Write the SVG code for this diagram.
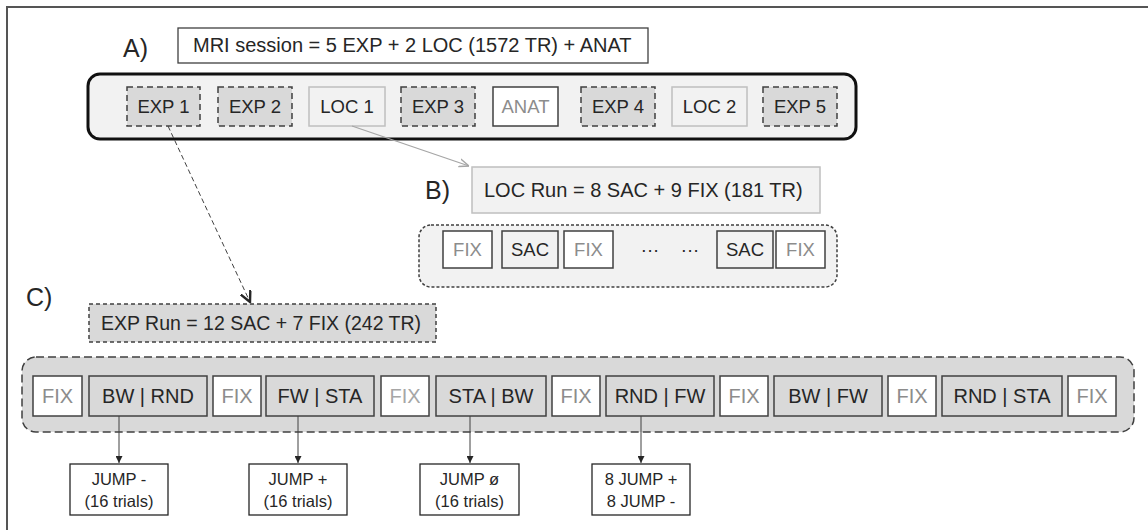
<svg xmlns="http://www.w3.org/2000/svg" width="1148" height="530" viewBox="0 0 1148 530">
<defs>
<style>
text{font-family:"Liberation Sans",Arial,sans-serif;fill:#262626;text-anchor:middle}
.lbl{font-size:25px;text-anchor:start}
.hd{font-size:20px;text-anchor:start}
.a{font-size:18.5px}
.c{font-size:20px}
.j{font-size:16.5px}
.g{fill:#8c8c8c}
.gl{fill:#a6a6a6}
.exp{fill:#d9d9d9;stroke:#404040;stroke-width:1.5;stroke-dasharray:6 4}
.loc{fill:#f2f2f2;stroke:#bfbfbf;stroke-width:1.5}
.wht{fill:#fff;stroke:#404040;stroke-width:1.5}
.sac{fill:#f2f2f2;stroke:#404040;stroke-width:1.5}
.cit{fill:#d9d9d9;stroke:#404040;stroke-width:1.5}
.jb{fill:#fff;stroke:#262626;stroke-width:1.3}
</style>
<marker id="ah" viewBox="0 0 10 10" refX="10" refY="5" markerWidth="7" markerHeight="7" orient="auto" markerUnits="userSpaceOnUse">
<path d="M0,0 L10,5 L0,10 z" fill="#262626"/>
</marker>
<marker id="ag" viewBox="0 0 10 10" refX="10" refY="5" markerWidth="10" markerHeight="10" orient="auto" markerUnits="userSpaceOnUse">
<path d="M0,1 L10,5 L0,9" fill="none" stroke="#a6a6a6" stroke-width="1.5"/>
</marker>
<marker id="av" viewBox="0 0 10 10" refX="9" refY="5" markerWidth="12" markerHeight="12" orient="auto" markerUnits="userSpaceOnUse">
<path d="M0,0.5 L9,5 L0,9.5" fill="none" stroke="#262626" stroke-width="2"/>
</marker>
</defs>
<rect x="0" y="0" width="1148" height="530" fill="#fff"/>
<rect x="7" y="7" width="1170" height="560" fill="none" stroke="#555" stroke-width="2"/>

<g id="A">
<text class="lbl" x="123" y="57">A)</text>
<rect x="178" y="28" width="470" height="35" fill="#fff" stroke="#404040" stroke-width="1.3"/>
<text class="hd" x="193" y="52">MRI session = 5 EXP + 2 LOC (1572 TR) + ANAT</text>
</g>
<g id="session">
<rect x="88" y="74" width="768" height="65" rx="12" fill="#f2f2f2" stroke="#111" stroke-width="3"/>
</g>
<g id="exp1"><rect class="exp" x="127" y="87" width="73" height="39"/><text class="a" x="163.5" y="113">EXP 1</text></g>
<g id="exp2"><rect class="exp" x="218" y="87" width="74" height="39"/><text class="a" x="255" y="113">EXP 2</text></g>
<g id="loc1"><rect class="loc" x="309" y="87" width="76" height="39"/><text class="a" x="347" y="113">LOC 1</text></g>
<g id="exp3"><rect class="exp" x="401" y="87" width="74" height="39"/><text class="a" x="438" y="113">EXP 3</text></g>
<g id="anat"><rect class="wht" x="493" y="87" width="65" height="39"/><text class="a g" x="525.5" y="113">ANAT</text></g>
<g id="exp4"><rect class="exp" x="581" y="87" width="74" height="39"/><text class="a" x="618" y="113">EXP 4</text></g>
<g id="loc2"><rect class="loc" x="672" y="87" width="75" height="39"/><text class="a" x="709.5" y="113">LOC 2</text></g>
<g id="exp5"><rect class="exp" x="763" y="87" width="74" height="39"/><text class="a" x="800" y="113">EXP 5</text></g>

<g id="B">
<text class="lbl" x="425" y="199">B)</text>
<rect class="loc" x="472" y="167" width="348" height="46"/>
<text class="hd" x="484" y="197">LOC Run = 8 SAC + 9 FIX (181 TR)</text>
</g>
<g id="locrun">
<rect x="419" y="225" width="418" height="62" rx="12" fill="#f2f2f2" stroke="#404040" stroke-width="1.5" stroke-dasharray="3 2"/>
</g>
<g id="b-fix1"><rect class="wht" x="443" y="231" width="49" height="37"/><text class="a g" x="467.5" y="256">FIX</text></g>
<g id="b-sac1"><rect class="sac" x="502" y="231" width="56" height="37"/><text class="a" x="530" y="256">SAC</text></g>
<g id="b-fix2"><rect class="wht" x="564" y="231" width="49" height="37"/><text class="a g" x="588.5" y="256">FIX</text></g>
<g id="b-dots"><text class="a" x="650" y="256">···</text><text class="a" x="690" y="256">···</text></g>
<g id="b-sac2"><rect class="sac" x="717" y="231" width="56" height="37"/><text class="a" x="745" y="256">SAC</text></g>
<g id="b-fix3"><rect class="wht" x="776" y="231" width="49" height="37"/><text class="a g" x="800.5" y="256">FIX</text></g>

<g id="C">
<text class="lbl" x="26" y="306">C)</text>
<rect x="89" y="304" width="347" height="38" fill="#d9d9d9" stroke="#404040" stroke-width="1.5" stroke-dasharray="4 3"/>
<text class="hd" x="101" y="330" style="font-size:19.5px">EXP Run = 12 SAC + 7 FIX (242 TR)</text>
</g>
<g id="exprun">
<rect x="22" y="357" width="1112" height="75" rx="14" fill="#d9d9d9" stroke="#404040" stroke-width="1.5" stroke-dasharray="8 4"/>
</g>
<g id="c-fix1"><rect class="wht" x="33" y="376" width="49" height="40"/><text class="c g" x="57.5" y="403">FIX</text></g>
<g id="c-bwrnd"><rect class="cit" x="89" y="376" width="118" height="40"/><text class="c" x="148" y="403">BW | RND</text></g>
<g id="c-fix2"><rect class="wht" x="213" y="376" width="48" height="40"/><text class="c g" x="237" y="403">FIX</text></g>
<g id="c-fwsta"><rect class="cit" x="266" y="376" width="108" height="40"/><text class="c" x="320" y="403">FW | STA</text></g>
<g id="c-fix3"><rect class="wht" x="381" y="376" width="48" height="40"/><text class="c gl" x="405" y="403">FIX</text></g>
<g id="c-stabw"><rect class="cit" x="436" y="376" width="110" height="40"/><text class="c" x="491" y="403">STA | BW</text></g>
<g id="c-fix4"><rect class="wht" x="552" y="376" width="48" height="40"/><text class="c g" x="576" y="403">FIX</text></g>
<g id="c-rndfw"><rect class="cit" x="606" y="376" width="108" height="40"/><text class="c" x="660" y="403">RND | FW</text></g>
<g id="c-fix5"><rect class="wht" x="720" y="376" width="48" height="40"/><text class="c g" x="744" y="403">FIX</text></g>
<g id="c-bwfw"><rect class="cit" x="774" y="376" width="108" height="40"/><text class="c" x="828" y="403">BW | FW</text></g>
<g id="c-fix6"><rect class="wht" x="888" y="376" width="48" height="40"/><text class="c g" x="912" y="403">FIX</text></g>
<g id="c-rndsta"><rect class="cit" x="942" y="376" width="120" height="40"/><text class="c" x="1002" y="403">RND | STA</text></g>
<g id="c-fix7"><rect class="wht" x="1068" y="376" width="48" height="40"/><text class="c g" x="1092" y="403">FIX</text></g>

<g id="jump-minus"><rect class="jb" x="70" y="464" width="98" height="51"/><text class="j" x="119" y="485">JUMP -</text><text class="j" x="119" y="507">(16 trials)</text></g>
<g id="jump-plus"><rect class="jb" x="249" y="464" width="98" height="51"/><text class="j" x="298" y="485">JUMP +</text><text class="j" x="298" y="507">(16 trials)</text></g>
<g id="jump-null"><rect class="jb" x="420" y="464" width="99" height="51"/><text class="j" x="469.5" y="485">JUMP ø</text><text class="j" x="469.5" y="507">(16 trials)</text></g>
<g id="jump-mix"><rect class="jb" x="592" y="464" width="98" height="51"/><text class="j" x="641" y="485">8 JUMP +</text><text class="j" x="641" y="507">8 JUMP -</text></g>

<g id="connectors" fill="none">
<line x1="352" y1="126" x2="469" y2="166" stroke="#a6a6a6" stroke-width="1.3" marker-end="url(#ag)"/>
<line x1="168" y1="126" x2="250" y2="302" stroke="#404040" stroke-width="1" stroke-dasharray="5 3" marker-end="url(#av)"/>
<line x1="119" y1="416" x2="119" y2="463" stroke="#404040" stroke-width="1" marker-end="url(#ah)"/>
<line x1="298" y1="416" x2="298" y2="463" stroke="#404040" stroke-width="1" marker-end="url(#ah)"/>
<line x1="470" y1="416" x2="470" y2="463" stroke="#404040" stroke-width="1" marker-end="url(#ah)"/>
<line x1="641" y1="416" x2="641" y2="463" stroke="#404040" stroke-width="1" marker-end="url(#ah)"/>
</g>
</svg>
